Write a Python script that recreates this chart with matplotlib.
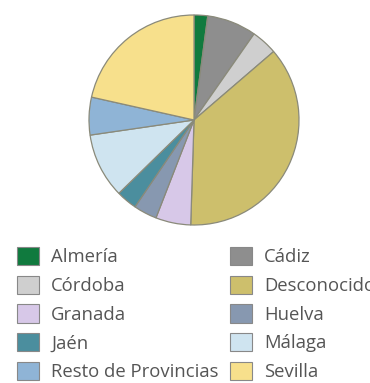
import matplotlib
matplotlib.use("Agg")
import matplotlib.pyplot as plt
from matplotlib.patches import Patch

labels = ["Almería", "Cádiz", "Córdoba", "Desconocido", "Granada",
          "Huelva", "Jaén", "Málaga", "Resto de Provincias", "Sevilla"]
values = [2.1, 7.6, 4.0, 36.8, 5.4, 3.6, 3.2, 10.0, 5.8, 21.5]
colors = ["#107a3e", "#8e8e8e", "#cfcfcf", "#cdbf6c", "#d7c8e8",
          "#8798b0", "#4b8e9e", "#cfe4f0", "#8fb4d6", "#f7e08c"]

W, H = 370, 383
fig = plt.figure(figsize=(W / 100, H / 100), dpi=100)
cx, cy, r = 194, 120, 105
ax = fig.add_axes([(cx - r) / W, (H - cy - r) / H, 2 * r / W, 2 * r / H])
ax.pie(values, colors=colors, startangle=90, counterclock=False,
       wedgeprops=dict(edgecolor="#8a8a7a", linewidth=0.9))
ax.set_xlim(-1.0, 1.0)
ax.set_ylim(-1.0, 1.0)
ax.set_aspect("equal")

handles = [Patch(facecolor=c, edgecolor="#888888", linewidth=0.8) for c in colors]
order = [0, 2, 4, 6, 8, 1, 3, 5, 7, 9]
fs = 13.3
fig.legend([handles[i] for i in order], [labels[i] for i in order],
           ncol=2, loc="upper left", bbox_to_anchor=(17 / W, 1 - 247 / H),
           frameon=False, prop={"family": "Open Sans", "size": fs},
           borderpad=0, borderaxespad=0,
           handlelength=1.2, handleheight=1.15, handletextpad=0.65,
           columnspacing=0.62, labelspacing=0.5, labelcolor="#555555")

fig.savefig("out.png", dpi=100)
